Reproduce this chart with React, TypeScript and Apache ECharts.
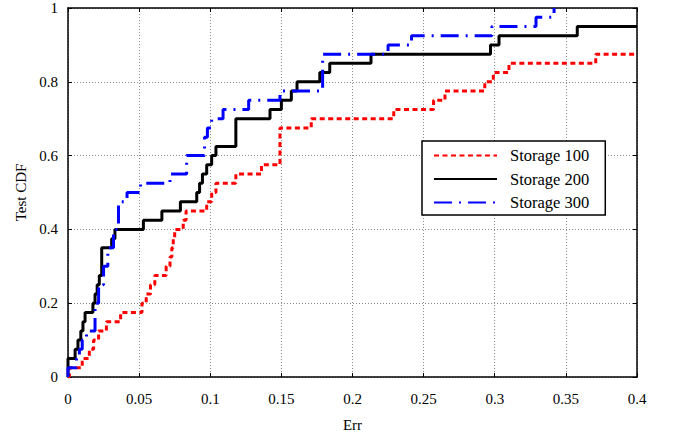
import React, { useEffect, useRef } from "react";
import * as echarts from "echarts";

const seriesNames = ["Storage 100", "Storage 200", "Storage 300"];
const xTicks = [0, 0.05, 0.1, 0.15, 0.2, 0.25, 0.3, 0.35, 0.4];
const yTicks = [0, 0.2, 0.4, 0.6, 0.8, 1];

const storage100X = [0, 0.001, 0.010, 0.015, 0.018, 0.0215, 0.027, 0.037, 0.052, 0.055, 0.058, 0.061, 0.069, 0.0717, 0.073, 0.074, 0.075, 0.081, 0.083, 0.0975, 0.101, 0.104, 0.118, 0.136, 0.149, 0.171, 0.229, 0.257, 0.265, 0.293, 0.299, 0.310, 0.371, 0.4];
const storage100Y = [0, 0.025, 0.05, 0.075, 0.1, 0.125, 0.15, 0.175, 0.2, 0.225, 0.25, 0.275, 0.3, 0.325, 0.35, 0.375, 0.4, 0.425, 0.45, 0.475, 0.5, 0.525, 0.55, 0.575, 0.675, 0.7, 0.725, 0.75, 0.775, 0.8, 0.825, 0.85, 0.875, 0.875];

const storage200X = [0, 0, 0.005, 0.007, 0.009, 0.0105, 0.012, 0.0175, 0.019, 0.0205, 0.022, 0.0237, 0.0307, 0.033, 0.053, 0.066, 0.079, 0.0905, 0.0925, 0.0945, 0.0975, 0.101, 0.104, 0.118, 0.142, 0.150, 0.157, 0.161, 0.177, 0.184, 0.213, 0.297, 0.303, 0.358, 0.4];
const storage200Y = [0, 0.05, 0.075, 0.1, 0.125, 0.15, 0.175, 0.2, 0.225, 0.25, 0.275, 0.35, 0.375, 0.4, 0.425, 0.45, 0.475, 0.5, 0.525, 0.55, 0.575, 0.6, 0.625, 0.7, 0.725, 0.75, 0.775, 0.8, 0.825, 0.85, 0.875, 0.9, 0.925, 0.95, 0.95];

const storage300X = [0, 0, 0.006, 0.008, 0.010, 0.013, 0.019, 0.0215, 0.025, 0.028, 0.032, 0.0355, 0.0415, 0.051, 0.0717, 0.0834, 0.096, 0.098, 0.101, 0.109, 0.127, 0.149, 0.179, 0.225, 0.2415, 0.298, 0.329, 0.3417];
const storage300Y = [0, 0.025, 0.05, 0.075, 0.1, 0.125, 0.2, 0.25, 0.3, 0.35, 0.4, 0.475, 0.5, 0.525, 0.55, 0.6, 0.65, 0.675, 0.7, 0.725, 0.75, 0.775, 0.875, 0.9, 0.925, 0.95, 0.975, 1.0];

const zip = (xs: number[], ys: number[]) => xs.map((x, i) => [x, ys[i]]);

const FONT = "'Liberation Serif', 'Times New Roman', serif";

export default function App() {
  const ref = useRef<HTMLDivElement>(null);
  useEffect(() => {
    document.body.style.margin = "0";
    const chart = echarts.init(ref.current!, undefined, { renderer: "svg" });
    const axisCommon = {
      axisLine: { show: true, onZero: false, lineStyle: { color: "#000", width: 1.5 } },
      axisTick: { show: true, inside: true, length: 4, lineStyle: { color: "#000", width: 1 } },
    };
    chart.setOption({
      animation: false,
      backgroundColor: "#fff",
      textStyle: { fontFamily: FONT },
      grid: { left: 68, right: 39, top: 8, bottom: 61, containLabel: false },
      legend: {
        orient: "vertical",
        left: 422,
        top: 141,
        data: seriesNames,
        itemWidth: 63,
        itemHeight: 14,
        itemGap: 4.5,
        padding: [5, 16, 3, 11],
        borderColor: "#000",
        borderWidth: 1.5,
        backgroundColor: "#fff",
        itemStyle: { color: "transparent", borderWidth: 0, opacity: 0 },
        textStyle: { fontFamily: FONT, fontSize: 16.5, lineHeight: 19, color: "#000", padding: [0, 0, 0, 8] },
      },
      xAxis: [
        {
          type: "value",
          min: 0,
          max: 0.4,
          interval: 0.05,
          ...axisCommon,
          axisLabel: {
            fontFamily: FONT, fontSize: 15, color: "#000", margin: 14,
            formatter: (v: number) => String(xTicks.find((t) => Math.abs(t - v) < 1e-9) ?? v),
          },
          splitLine: { show: true, lineStyle: { color: "#8a8a8a", width: 1, type: [1, 2] } },
          name: "Err",
          nameLocation: "middle",
          nameGap: 40,
          nameTextStyle: { fontFamily: FONT, fontSize: 15, color: "#000" },
        },
        {
          type: "value", position: "top", min: 0, max: 0.4, interval: 0.05,
          ...axisCommon, axisLabel: { show: false }, splitLine: { show: false },
        },
      ],
      yAxis: [
        {
          type: "value",
          min: 0,
          max: 1,
          interval: 0.2,
          ...axisCommon,
          axisLabel: {
            fontFamily: FONT, fontSize: 15, color: "#000", margin: 10,
            formatter: (v: number) => String(yTicks.find((t) => Math.abs(t - v) < 1e-9) ?? v),
          },
          splitLine: { show: true, lineStyle: { color: "#8a8a8a", width: 1, type: [1, 2] } },
          name: "Test CDF",
          nameLocation: "middle",
          nameGap: 38,
          nameTextStyle: { fontFamily: FONT, fontSize: 15, color: "#000" },
        },
        {
          type: "value", position: "right", min: 0, max: 1, interval: 0.2,
          ...axisCommon, axisLabel: { show: false }, splitLine: { show: false },
        },
      ],
      series: [
        {
          name: seriesNames[0], type: "line", step: "end", showSymbol: false, symbol: "none",
          data: zip(storage100X, storage100Y),
          lineStyle: { color: "#ff0000", width: 3, type: [5, 3.5] },
          itemStyle: { color: "#ff0000" },
        },
        {
          name: seriesNames[1], type: "line", step: "end", showSymbol: false, symbol: "none",
          data: zip(storage200X, storage200Y),
          lineStyle: { color: "#000000", width: 3, type: "solid" },
          itemStyle: { color: "#000000" },
        },
        {
          name: seriesNames[2], type: "line", step: "end", showSymbol: false, symbol: "none",
          data: zip(storage300X, storage300Y),
          lineStyle: { color: "#0000ff", width: 3, type: [18, 7, 2, 7] },
          itemStyle: { color: "#0000ff" },
        },
      ],
    });
    return () => chart.dispose();
  }, []);
  return <div ref={ref} style={{ width: 676, height: 438 }} />;
}
